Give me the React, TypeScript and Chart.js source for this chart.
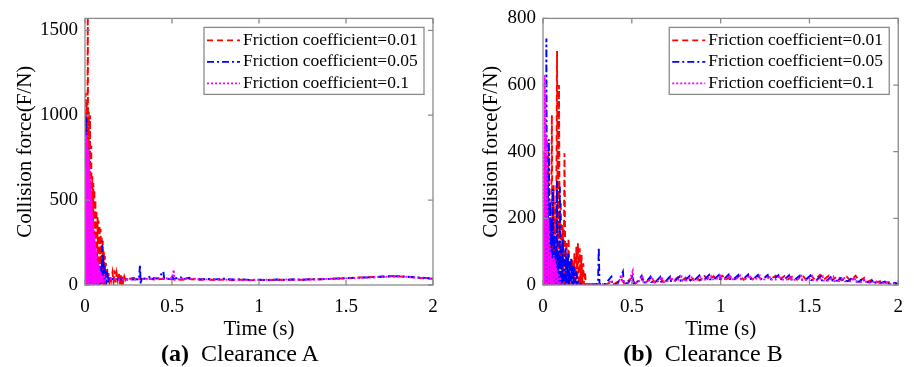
import React, { useEffect, useRef } from "react";
import { Chart, registerables } from "chart.js";

Chart.register(...registerables);

type Pt = [number, number];

// ---------- text ----------
const legendLabels = [
  "Friction coefficient=0.01",
  "Friction coefficient=0.05",
  "Friction coefficient=0.1",
];
const xTitle = "Time (s)";
const yTitle = "Collision force(F/N)";

// ---------- ticks ----------
const xTickValues = [0, 0.5, 1, 1.5, 2];
const yTicksA = [0, 500, 1000, 1500];
const yTicksB = [0, 200, 400, 600, 800];
const yMaxA = 1570;
const yMaxB = 800;

// ---------- Clearance A : [time (s), force (N)] ----------
const clearanceA_mu001: Pt[] = [
  [0, 0], [0.003, 1130], [0.006, 0], [0.009, 1080], [0.012, 0], [0.016, 1700], [0.019, 0],
  [0.022, 1020], [0.025, 0], [0.029, 1000], [0.032, 0], [0.036, 820], [0.039, 0], [0.042, 640],
  [0.045, 0], [0.048, 600], [0.051, 0], [0.054, 560], [0.057, 0], [0.06, 500], [0.063, 0],
  [0.066, 440], [0.069, 0], [0.072, 400], [0.075, 0], [0.078, 380], [0.081, 0], [0.084, 350],
  [0.087, 0], [0.09, 330], [0.093, 0], [0.096, 290], [0.099, 0], [0.102, 260], [0.105, 0],
  [0.108, 200], [0.111, 0], [0.114, 170], [0.117, 0], [0.12, 130], [0.123, 10], [0.127, 100],
  [0.131, 15], [0.135, 70], [0.14, 20], [0.145, 55], [0.15, 25], [0.158, 75], [0.164, 20],
  [0.17, 87], [0.176, 15], [0.182, 70], [0.188, 30], [0.194, 75], [0.2, 5], [0.205, 60],
  [0.21, 0], [0.215, 55], [0.22, 20], [0.226, 50], [0.232, 30], [0.24, 45], [0.25, 35],
  [0.28, 42], [0.3, 33], [0.35, 38], [0.4, 32], [0.45, 36], [0.5, 34], [0.55, 31], [0.6, 35],
  [0.65, 30], [0.7, 33], [0.75, 29], [0.8, 32], [0.85, 28], [0.9, 31], [0.95, 27], [1, 30],
  [1.05, 28], [1.1, 31], [1.15, 29], [1.2, 32], [1.25, 30], [1.3, 33], [1.35, 34], [1.4, 36],
  [1.45, 38], [1.5, 40], [1.55, 43], [1.6, 45], [1.65, 47], [1.7, 50], [1.75, 53], [1.8, 51],
  [1.85, 48], [1.9, 44], [1.95, 40], [2, 37],
];

const clearanceA_mu005: Pt[] = [
  [0, 0], [0.002, 1020], [0.005, 0], [0.008, 980], [0.011, 0], [0.014, 820], [0.017, 0],
  [0.02, 780], [0.023, 0], [0.026, 600], [0.029, 0], [0.032, 480], [0.035, 0], [0.038, 400],
  [0.041, 0], [0.044, 330], [0.047, 0], [0.05, 270], [0.053, 0], [0.056, 220], [0.059, 0],
  [0.062, 180], [0.065, 0], [0.068, 150], [0.071, 0], [0.074, 120], [0.077, 0], [0.08, 110],
  [0.083, 0], [0.086, 90], [0.089, 5], [0.093, 120], [0.096, 5], [0.099, 260], [0.102, 10],
  [0.105, 180], [0.108, 15], [0.112, 110], [0.116, 20], [0.12, 80], [0.125, 25], [0.13, 55],
  [0.135, 30], [0.14, 40], [0.16, 35], [0.2, 33], [0.25, 32], [0.3, 34], [0.31, 30],
  [0.316, 120], [0.32, 5], [0.325, 35], [0.35, 38], [0.38, 52], [0.39, 40], [0.42, 38],
  [0.45, 80], [0.455, 38], [0.48, 36], [0.5, 50], [0.51, 36], [0.55, 46], [0.56, 34],
  [0.6, 42], [0.61, 33], [0.65, 40], [0.66, 32], [0.7, 36], [0.75, 33], [0.8, 37], [0.85, 32],
  [0.9, 34], [0.95, 30], [1, 31], [1.05, 29], [1.1, 32], [1.15, 30], [1.2, 33], [1.25, 31],
  [1.3, 34], [1.35, 33], [1.4, 36], [1.45, 38], [1.5, 40], [1.55, 42], [1.6, 44], [1.65, 45],
  [1.7, 48], [1.75, 50], [1.8, 52], [1.85, 49], [1.9, 45], [1.95, 42], [2, 38],
];

const clearanceA_mu01: Pt[] = [
  [0, 0], [0.002, 700], [0.004, 0], [0.006, 880], [0.008, 0], [0.01, 900], [0.012, 0],
  [0.014, 860], [0.016, 0], [0.018, 800], [0.02, 0], [0.022, 760], [0.024, 0], [0.026, 700],
  [0.028, 0], [0.03, 620], [0.032, 0], [0.034, 560], [0.036, 0], [0.038, 500], [0.04, 0],
  [0.042, 440], [0.044, 0], [0.046, 380], [0.048, 0], [0.05, 330], [0.052, 0], [0.054, 290],
  [0.056, 0], [0.058, 250], [0.06, 0], [0.062, 220], [0.064, 0], [0.066, 190], [0.068, 0],
  [0.07, 160], [0.072, 0], [0.074, 140], [0.076, 0], [0.078, 120], [0.08, 5], [0.082, 100],
  [0.084, 10], [0.086, 85], [0.088, 10], [0.09, 75], [0.092, 15], [0.095, 65], [0.098, 20],
  [0.101, 55], [0.105, 25], [0.11, 48], [0.115, 28], [0.12, 42], [0.13, 32], [0.14, 38],
  [0.16, 34], [0.2, 32], [0.25, 33], [0.3, 34], [0.35, 35], [0.4, 40], [0.45, 38], [0.5, 40],
  [0.51, 90], [0.515, 30], [0.55, 38], [0.6, 36], [0.65, 34], [0.7, 33], [0.75, 31], [0.8, 32],
  [0.85, 30], [0.9, 31], [0.95, 29], [1, 30], [1.05, 31], [1.1, 30], [1.15, 32], [1.2, 31],
  [1.25, 33], [1.3, 32], [1.35, 35], [1.4, 36], [1.45, 38], [1.5, 39], [1.55, 41], [1.6, 43],
  [1.65, 45], [1.7, 47], [1.75, 49], [1.8, 50], [1.85, 48], [1.9, 44], [1.95, 41], [2, 37],
];

// ---------- Clearance B : [time (s), force (N)] ----------
const clearanceB_mu001: Pt[] = [
  [0, 0], [0.006, 150], [0.01, 0], [0.014, 250], [0.018, 0], [0.022, 330], [0.026, 0],
  [0.03, 420], [0.034, 0], [0.04, 200], [0.044, 0], [0.05, 510], [0.054, 0], [0.06, 300],
  [0.064, 0], [0.068, 250], [0.073, 0], [0.079, 702], [0.084, 0], [0.09, 600], [0.095, 0],
  [0.1, 250], [0.105, 0], [0.111, 180], [0.116, 0], [0.121, 395], [0.126, 0], [0.132, 130],
  [0.137, 0], [0.144, 140], [0.149, 0], [0.155, 70], [0.16, 0], [0.166, 80], [0.171, 0],
  [0.177, 95], [0.182, 0], [0.188, 115], [0.192, 0], [0.197, 125], [0.201, 0], [0.207, 110],
  [0.211, 0], [0.217, 90], [0.221, 0], [0.227, 65], [0.231, 0], [0.237, 40], [0.241, 0],
  [0.25, 3], [0.28, 2], [0.3, 3], [0.33, 2], [0.36, 3], [0.385, 10], [0.4, 2], [0.44, 18],
  [0.46, 3], [0.5, 22], [0.52, 4], [0.555, 25], [0.575, 6], [0.61, 22], [0.63, 8], [0.66, 20],
  [0.68, 9], [0.71, 22], [0.73, 10], [0.76, 24], [0.78, 12], [0.81, 25], [0.83, 13], [0.86, 26],
  [0.88, 14], [0.91, 27], [0.93, 15], [0.96, 26], [0.98, 16], [1.01, 28], [1.03, 16], [1.06, 27],
  [1.08, 17], [1.11, 28], [1.13, 16], [1.16, 27], [1.18, 17], [1.21, 28], [1.23, 16], [1.26, 27],
  [1.28, 17], [1.31, 28], [1.33, 16], [1.36, 27], [1.38, 17], [1.41, 28], [1.43, 16], [1.46, 29],
  [1.48, 17], [1.51, 28], [1.53, 16], [1.56, 30], [1.58, 16], [1.61, 28], [1.63, 15], [1.66, 27],
  [1.68, 14], [1.71, 25], [1.73, 13], [1.76, 28], [1.78, 12], [1.81, 22], [1.83, 10], [1.86, 18],
  [1.88, 8], [1.91, 14], [1.93, 6], [1.96, 10], [1.98, 4], [2, 3],
];

const clearanceB_mu005: Pt[] = [
  [0, 0], [0.004, 180], [0.008, 0], [0.012, 400], [0.016, 0], [0.019, 740], [0.023, 0],
  [0.027, 300], [0.03, 0], [0.033, 437], [0.037, 0], [0.041, 250], [0.045, 0], [0.049, 200],
  [0.052, 0], [0.056, 288], [0.06, 0], [0.064, 150], [0.068, 0], [0.072, 120], [0.075, 0],
  [0.078, 312], [0.082, 0], [0.087, 100], [0.091, 0], [0.095, 295], [0.099, 0], [0.103, 110],
  [0.107, 0], [0.111, 140], [0.115, 0], [0.119, 90], [0.123, 0], [0.127, 110], [0.131, 0],
  [0.135, 85], [0.139, 0], [0.143, 95], [0.147, 0], [0.151, 70], [0.155, 0], [0.159, 80],
  [0.163, 0], [0.167, 60], [0.171, 0], [0.175, 55], [0.179, 0], [0.183, 40], [0.187, 0],
  [0.192, 25], [0.2, 3], [0.25, 2], [0.3, 3], [0.31, 10], [0.314, 113], [0.318, 2], [0.35, 3],
  [0.385, 25], [0.39, 3], [0.42, 4], [0.45, 40], [0.455, 4], [0.48, 6], [0.505, 30], [0.51, 5],
  [0.53, 7], [0.555, 27], [0.56, 7], [0.58, 8], [0.605, 25], [0.61, 9], [0.635, 10], [0.66, 24],
  [0.665, 10], [0.69, 11], [0.715, 25], [0.72, 12], [0.745, 13], [0.77, 26], [0.775, 13],
  [0.8, 14], [0.825, 27], [0.83, 15], [0.855, 16], [0.88, 28], [0.885, 16], [0.91, 17],
  [0.935, 30], [0.94, 17], [0.965, 18], [0.99, 30], [0.995, 18], [1.02, 18], [1.045, 31],
  [1.05, 18], [1.075, 19], [1.1, 30], [1.105, 18], [1.13, 19], [1.155, 31], [1.16, 18],
  [1.185, 19], [1.21, 30], [1.215, 18], [1.24, 18], [1.265, 30], [1.27, 17], [1.3, 18],
  [1.325, 29], [1.33, 17], [1.36, 17], [1.385, 29], [1.39, 16], [1.42, 17], [1.445, 28],
  [1.45, 16], [1.48, 16], [1.505, 28], [1.51, 15], [1.54, 15], [1.565, 27], [1.57, 14],
  [1.6, 14], [1.625, 26], [1.63, 13], [1.66, 13], [1.685, 25], [1.69, 12], [1.72, 12],
  [1.745, 24], [1.75, 11], [1.78, 10], [1.805, 20], [1.81, 9], [1.84, 8], [1.865, 15],
  [1.87, 7], [1.9, 6], [1.925, 10], [1.93, 5], [1.96, 4], [1.985, 6], [2, 3],
];

const clearanceB_mu01: Pt[] = [
  [0, 0], [0.002, 230], [0.004, 0], [0.006, 400], [0.008, 0], [0.01, 630], [0.012, 0],
  [0.014, 580], [0.016, 0], [0.018, 450], [0.02, 0], [0.022, 330], [0.024, 0], [0.026, 260],
  [0.028, 0], [0.03, 200], [0.032, 0], [0.034, 150], [0.036, 0], [0.038, 120], [0.04, 0],
  [0.042, 100], [0.044, 0], [0.046, 90], [0.048, 0], [0.05, 80], [0.052, 0], [0.055, 70],
  [0.058, 0], [0.061, 90], [0.064, 0], [0.067, 75], [0.07, 0], [0.073, 60], [0.076, 0],
  [0.08, 45], [0.084, 0], [0.088, 35], [0.092, 0], [0.097, 25], [0.1, 2], [0.15, 3], [0.2, 2],
  [0.25, 3], [0.3, 2], [0.33, 3], [0.36, 2], [0.385, 15], [0.39, 3], [0.42, 3], [0.445, 30],
  [0.45, 4], [0.48, 5], [0.505, 42], [0.51, 5], [0.535, 6], [0.56, 28], [0.565, 7], [0.59, 8],
  [0.615, 26], [0.62, 9], [0.645, 10], [0.67, 25], [0.675, 10], [0.7, 11], [0.725, 24],
  [0.73, 12], [0.755, 13], [0.78, 25], [0.785, 13], [0.81, 14], [0.835, 26], [0.84, 15],
  [0.865, 15], [0.89, 27], [0.895, 16], [0.92, 16], [0.945, 27], [0.95, 17], [0.975, 17],
  [1, 28], [1.005, 17], [1.03, 18], [1.055, 28], [1.06, 17], [1.085, 18], [1.11, 28],
  [1.115, 17], [1.14, 18], [1.165, 29], [1.17, 17], [1.195, 17], [1.22, 28], [1.225, 17],
  [1.25, 17], [1.275, 28], [1.28, 16], [1.31, 16], [1.335, 28], [1.34, 16], [1.37, 16],
  [1.395, 27], [1.4, 15], [1.43, 16], [1.455, 27], [1.46, 15], [1.49, 15], [1.515, 27],
  [1.52, 14], [1.55, 14], [1.575, 26], [1.58, 13], [1.61, 13], [1.635, 25], [1.64, 12],
  [1.67, 12], [1.695, 24], [1.7, 11], [1.73, 11], [1.755, 22], [1.76, 10], [1.79, 9],
  [1.815, 18], [1.82, 8], [1.85, 7], [1.875, 13], [1.88, 6], [1.91, 5], [1.935, 9], [1.94, 4],
  [1.97, 3], [1.99, 5], [2, 2],
];

// ---------- styles ----------
const seriesColors = ["#ff0000", "#0000ff", "#ff00ff"];
const seriesDashes: number[][] = [[6, 4], [7, 3, 2, 3], [2, 2]];
const FONT = '"Liberation Serif", "Times New Roman", serif';
const FRAME = "#8a8a8a";

const framePlugin = {
  id: "matlabFrame",
  afterDatasetsDraw(chart: any, _args: any, opts: any) {
    const { ctx, chartArea: a } = chart;
    const xs = chart.scales.x;
    const ys = chart.scales.y;
    ctx.save();
    ctx.setLineDash([]);
    ctx.strokeStyle = FRAME;
    ctx.lineWidth = 1.3;
    ctx.strokeRect(a.left, a.top, a.right - a.left, a.bottom - a.top);
    const tl = 5;
    ctx.beginPath();
    xTickValues.forEach((v) => {
      const px = xs.getPixelForValue(v);
      ctx.moveTo(px, a.bottom);
      ctx.lineTo(px, a.bottom - tl);
      ctx.moveTo(px, a.top);
      ctx.lineTo(px, a.top + tl);
    });
    (opts.yTicks as number[]).forEach((v) => {
      const py = ys.getPixelForValue(v);
      ctx.moveTo(a.left, py);
      ctx.lineTo(a.left + tl, py);
      ctx.moveTo(a.right, py);
      ctx.lineTo(a.right - tl, py);
    });
    ctx.stroke();

    // legend box inside the axes (north-east)
    const w = 220;
    const h = 67;
    const bx = a.right - 9 - w;
    const by = a.top + 9;
    ctx.fillStyle = "#ffffff";
    ctx.fillRect(bx, by, w, h);
    ctx.strokeStyle = FRAME;
    ctx.lineWidth = 1.3;
    ctx.strokeRect(bx, by, w, h);
    ctx.font = `17.5px ${FONT}`;
    ctx.textBaseline = "middle";
    ctx.textAlign = "left";
    legendLabels.forEach((lab, i) => {
      const y = by + 13 + i * 21.5;
      ctx.strokeStyle = seriesColors[i];
      ctx.lineWidth = 1.8;
      ctx.setLineDash(seriesDashes[i]);
      ctx.beginPath();
      ctx.moveTo(bx + 3, y);
      ctx.lineTo(bx + 36, y);
      ctx.stroke();
      ctx.setLineDash([]);
      ctx.fillStyle = "#000";
      ctx.fillText(lab, bx + 39, y);
    });
    ctx.restore();
  },
};

type PanelProps = {
  series: Pt[][];
  yMax: number;
  yTicks: number[];
  padRight: number;
  padTop: number;
  yAxisWidth: number;
  yTitlePad: number;
};

function Panel(props: PanelProps) {
  const ref = useRef<HTMLCanvasElement | null>(null);
  useEffect(() => {
    if (!ref.current) return;
    const datasets = props.series.map((s, i) => ({
      label: legendLabels[i],
      data: s.map(([x, y]) => ({ x, y })),
      borderColor: seriesColors[i],
      backgroundColor: seriesColors[i],
      borderDash: seriesDashes[i],
      borderWidth: 1.9,
      pointRadius: 0,
      fill: false,
      tension: 0,
      order: 2 - i,
    }));
    const chart = new Chart(ref.current, {
      type: "line",
      data: { datasets },
      options: {
        animation: false,
        responsive: false,
        devicePixelRatio: 1,
        layout: { padding: { left: 0, top: props.padTop, right: props.padRight, bottom: 0 } },
        plugins: {
          legend: { display: false },
          tooltip: { enabled: false },
          matlabFrame: { yTicks: props.yTicks },
        } as any,
        scales: {
          x: {
            type: "linear",
            min: 0,
            max: 2,
            grid: { display: false, drawTicks: false },
            border: { display: false },
            afterBuildTicks: (s: any) => {
              s.ticks = xTickValues.map((v) => ({ value: v }));
            },
            afterFit: (s: any) => {
              s.height = 82;
            },
            ticks: {
              color: "#000",
              font: { family: FONT, size: 19 },
              padding: 11,
              maxRotation: 0,
              autoSkip: false,
              callback: (v: any) => String(v),
            },
            title: {
              display: true,
              text: xTitle,
              color: "#000",
              font: { family: FONT, size: 21 },
              padding: { top: 0, bottom: 25 },
            },
          },
          y: {
            type: "linear",
            min: 0,
            max: props.yMax,
            grid: { display: false, drawTicks: false },
            border: { display: false },
            afterBuildTicks: (s: any) => {
              s.ticks = props.yTicks.map((v) => ({ value: v }));
            },
            afterFit: (s: any) => {
              s.width = props.yAxisWidth;
            },
            ticks: {
              color: "#000",
              font: { family: FONT, size: 19 },
              padding: 7,
              autoSkip: false,
              callback: (v: any) => String(v),
            },
            title: {
              display: true,
              text: yTitle,
              color: "#000",
              font: { family: FONT, size: 21 },
              padding: { top: props.yTitlePad, bottom: 0 },
            },
          },
        },
      },
      plugins: [framePlugin],
    });
    return () => chart.destroy();
  }, []);
  return <canvas ref={ref} width={457} height={367} style={{ display: "block" }} />;
}

const captionStyle: React.CSSProperties = {
  position: "absolute",
  top: 340,
  width: 240,
  textAlign: "center",
  fontFamily: FONT,
  fontSize: 24,
  lineHeight: "26px",
  color: "#000",
  whiteSpace: "nowrap",
};

export default function App() {
  return (
    <div style={{ position: "fixed", left: 0, top: 0, width: 914, height: 367, background: "#fff", overflow: "hidden" }}>
      <div style={{ position: "absolute", left: 0, top: 0 }}>
        <Panel
          series={[clearanceA_mu001, clearanceA_mu005, clearanceA_mu01]}
          yMax={yMaxA}
          yTicks={yTicksA}
          padRight={24}
          padTop={15}
          yAxisWidth={85}
          yTitlePad={13}
        />
      </div>
      <div style={{ position: "absolute", left: 457, top: 0 }}>
        <Panel
          series={[clearanceB_mu001, clearanceB_mu005, clearanceB_mu01]}
          yMax={yMaxB}
          yTicks={yTicksB}
          padRight={14}
          padTop={16}
          yAxisWidth={86}
          yTitlePad={22}
        />
      </div>
      <div style={{ ...captionStyle, left: 120 }}>
        <b>(a)</b>{"\u00a0\u00a0"}Clearance A
      </div>
      <div style={{ ...captionStyle, left: 583 }}>
        <b>(b)</b>{"\u00a0\u00a0"}Clearance B
      </div>
    </div>
  );
}
